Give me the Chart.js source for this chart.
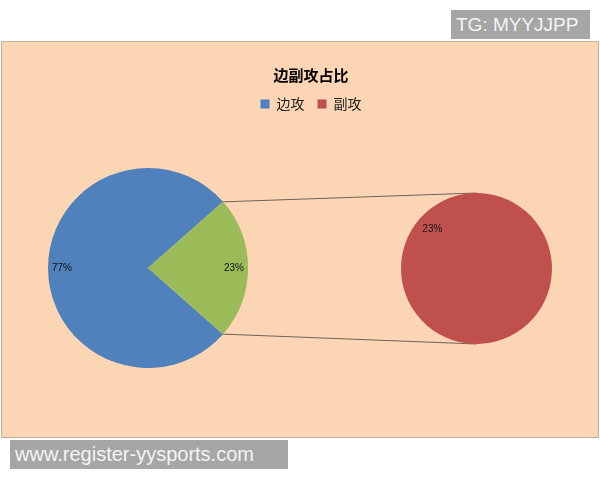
<!DOCTYPE html>
<html>
<head>
<meta charset="utf-8">
<script src="https://cdn.jsdelivr.net/npm/chart.js@4"></script>
<style>
  body { margin: 0; background: #fff; }
  #page { position: relative; width: 600px; height: 480px; overflow: hidden; }
  #frame { position: absolute; left: 1px; top: 41px; width: 596px; height: 395px;
           border: 1px solid #C2AE9F; background: #FCD5B5; }
  #frame canvas { position: absolute; left: 0; top: 0; }
  .tag { position: absolute; background: #A6A6A6; color: #F4F4F4; white-space: nowrap;
         font-family: "Liberation Sans", Arial, sans-serif; }
  #tg { left: 451px; top: 10px; width: 134px; height: 29px; line-height: 29px; padding-left: 5px; font-size: 19px; }
  #site { left: 10px; top: 440px; width: 273px; height: 29px; line-height: 29px; padding-left: 5px; font-size: 20px; }
</style>
</head>
<body>
<div id="page">
  <div id="frame">
    <canvas id="mainPie" width="596" height="395"></canvas>
    <canvas id="subPie" width="596" height="395"></canvas>
  </div>
  <div class="tag" id="tg">TG: MYYJJPP</div>
  <div class="tag" id="site">www.register-yysports.com</div>
</div>
<script>
// data
const categories = ["边攻", "副攻"];
const mainValues = [77, 23];      // main pie: 边攻 + the split-off part
const subValues = [23];           // second pie: 副攻
const title = "边副攻占比";

const mainColors = ["#4F81BD", "#9BBB59"];
const legendColors = ["#4F81BD", "#C0504D"];
const subColors = ["#C0504D"];

const total = mainValues.reduce((a, b) => a + b, 0);
// split slice centred on the right side, like excel's pie of pie
const rotation = 90 + 180 * mainValues[1] / total;

// put the pie where we want it instead of the middle of the canvas
const placePie = {
  id: "placePie",
  afterLayout(chart, args, opts) {
    const a = chart.chartArea;
    a.left = opts.x - opts.r;
    a.right = opts.x + opts.r;
    a.top = opts.y - opts.r;
    a.bottom = opts.y + opts.r;
    a.width = a.height = opts.r * 2;
  }
};

// percent labels inside the slices
const pctLabels = {
  id: "pctLabels",
  afterDatasetsDraw(chart, args, opts) {
    const ctx = chart.ctx;
    const ds = chart.data.datasets[0];
    ctx.save();
    ctx.font = "10px 'Liberation Sans', Arial, sans-serif";
    ctx.fillStyle = "#111";
    ctx.textAlign = "center";
    ctx.textBaseline = "middle";
    chart.getDatasetMeta(0).data.forEach((arc, i) => {
      const p = arc.getProps(["x", "y", "startAngle", "endAngle", "outerRadius"], true);
      const mid = (p.startAngle + p.endAngle) / 2;
      const d = p.outerRadius * opts.at;
      ctx.fillText(Math.round(ds.data[i] / total * 100) + "%", p.x + Math.cos(mid) * d, p.y + Math.sin(mid) * d);
    });
    ctx.restore();
  }
};

const mainChart = new Chart(document.getElementById("mainPie"), {
  type: "pie",
  data: {
    labels: categories,
    datasets: [{
      data: mainValues,
      backgroundColor: mainColors,
      borderWidth: 0,
      hoverOffset: 0,
      rotation: rotation
    }]
  },
  options: {
    responsive: false,
    animation: false,
    layout: { padding: { left: 22 } },
    plugins: {
      title: {
        display: true,
        text: title,
        color: "#000",
        font: { family: "'Noto Sans CJK SC', sans-serif", size: 15, weight: "bold" },
        padding: { top: 24, bottom: 0 }
      },
      legend: {
        position: "top",
        labels: {
          boxWidth: 9,
          boxHeight: 9,
          padding: 13,
          color: "#222",
          font: { family: "'Noto Sans CJK SC', sans-serif", size: 14 },
          generateLabels: () => categories.map((c, i) => ({
            text: c,
            fillStyle: legendColors[i],
            strokeStyle: legendColors[i],
            fontColor: "#222",
            lineWidth: 0,
            hidden: false,
            index: i
          }))
        },
        onClick: () => {}
      },
      tooltip: { enabled: false },
      placePie: { x: 146, y: 226, r: 100 },
      pctLabels: { at: 0.86 }
    }
  },
  plugins: [placePie, pctLabels]
});

// lines from the split slice to the second pie
const connectors = {
  id: "connectors",
  beforeDatasetsDraw(chart) {
    const src = mainChart.getDatasetMeta(0).data[1];
    const s = src.getProps(["x", "y", "startAngle", "endAngle", "outerRadius"], true);
    const dst = chart.getDatasetMeta(0).data[0];
    const d = dst.getProps(["x", "y", "outerRadius"], true);
    const ctx = chart.ctx;
    ctx.save();
    ctx.strokeStyle = "#6E6259";
    ctx.lineWidth = 1;
    ctx.beginPath();
    ctx.moveTo(s.x + Math.cos(s.startAngle) * s.outerRadius, s.y + Math.sin(s.startAngle) * s.outerRadius);
    ctx.lineTo(d.x, d.y - d.outerRadius);
    ctx.moveTo(s.x + Math.cos(s.endAngle) * s.outerRadius, s.y + Math.sin(s.endAngle) * s.outerRadius);
    ctx.lineTo(d.x, d.y + d.outerRadius);
    ctx.stroke();
    ctx.restore();
  }
};

new Chart(document.getElementById("subPie"), {
  type: "pie",
  data: {
    labels: [categories[1]],
    datasets: [{
      data: subValues,
      backgroundColor: subColors,
      borderWidth: 0,
      hoverOffset: 0,
      rotation: rotation
    }]
  },
  options: {
    responsive: false,
    animation: false,
    plugins: {
      legend: { display: false },
      title: { display: false },
      tooltip: { enabled: false },
      placePie: { x: 474.5, y: 226.5, r: 75.5 },
      pctLabels: { at: 0.78 }
    }
  },
  plugins: [placePie, connectors, pctLabels]
});
</script>
</body>
</html>
